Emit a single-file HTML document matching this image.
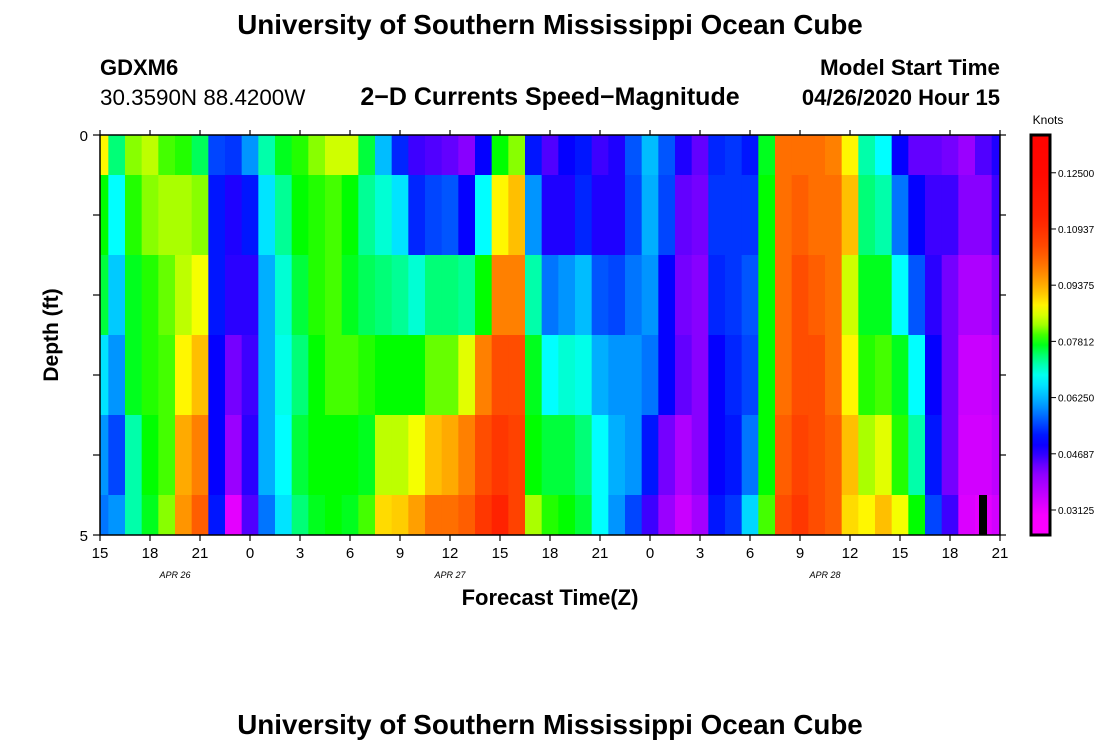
<!DOCTYPE html>
<html><head><meta charset="utf-8">
<style>
html,body{margin:0;padding:0;background:#fff;}
body{width:1100px;height:750px;overflow:hidden;position:relative;font-family:"Liberation Sans",sans-serif;}
svg text{font-family:"Liberation Sans",sans-serif;}
</style></head>
<body>
<svg id="chart" width="1100" height="750" xmlns="http://www.w3.org/2000/svg">
  <text x="550" y="34" text-anchor="middle" font-size="27.8" font-weight="bold">University of Southern Mississippi Ocean Cube</text>
  <text x="100" y="75" font-size="22" font-weight="bold">GDXM6</text>
  <text x="100" y="105" font-size="22.4">30.3590N 88.4200W</text>
  <text x="550" y="105" text-anchor="middle" font-size="25" font-weight="bold">2−D Currents Speed−Magnitude</text>
  <text x="1000" y="75" text-anchor="end" font-size="22.4" font-weight="bold">Model Start Time</text>
  <text x="1000" y="105" text-anchor="end" font-size="22" font-weight="bold">04/26/2020 Hour 15</text>
  <g id="cells"></g>
  <rect x="979" y="495" width="8" height="40" fill="#000"/>
  <rect x="100" y="135" width="900" height="400" fill="none" stroke="#000" stroke-width="1.5"/>
  <g id="axes"></g>
  <text x="550" y="605" text-anchor="middle" font-size="22" font-weight="bold">Forecast Time(Z)</text>
  <text transform="translate(58,335) rotate(-90)" text-anchor="middle" font-size="21" font-weight="bold">Depth (ft)</text>
  <text x="175" y="578" text-anchor="middle" font-size="9" font-style="italic" font-family="Liberation Serif">APR  26</text>
  <text x="450" y="578" text-anchor="middle" font-size="9" font-style="italic" font-family="Liberation Serif">APR  27</text>
  <text x="825" y="578" text-anchor="middle" font-size="9" font-style="italic" font-family="Liberation Serif">APR  28</text>
  <defs><linearGradient id="cbgrad" x1="0" y1="1" x2="0" y2="0"></linearGradient></defs>
  <text x="1048" y="124" text-anchor="middle" font-size="12">Knots</text>
  <rect x="1031" y="135" width="19" height="400" fill="url(#cbgrad)" stroke="#000" stroke-width="3"/>
  <g id="cbticks"></g>
  <text x="550" y="734" text-anchor="middle" font-size="27.8" font-weight="bold">University of Southern Mississippi Ocean Cube</text>
</svg>
<script>
const depths = [0,1,2,3,4,5];
const hours = [];
for (let i = 0; i <= 54; i++) hours.push(i);
const speed0 = [0.088,0.074,0.082,0.084,0.080,0.079,0.075,0.055,0.054,0.060,0.072,0.077,0.079,0.082,0.085,0.085,0.076,0.063,0.053,0.046,0.045,0.044,0.042,0.050,0.078,0.082,0.052,0.045,0.050,0.052,0.046,0.048,0.056,0.063,0.056,0.048,0.044,0.053,0.054,0.052,0.077,0.100,0.100,0.100,0.098,0.088,0.072,0.068,0.050,0.044,0.044,0.043,0.040,0.045,0.048];
const speed1 = [0.078,0.068,0.079,0.082,0.083,0.083,0.082,0.052,0.048,0.052,0.066,0.073,0.078,0.079,0.080,0.078,0.073,0.070,0.066,0.053,0.055,0.056,0.050,0.068,0.088,0.092,0.060,0.048,0.048,0.053,0.048,0.048,0.055,0.062,0.055,0.044,0.043,0.054,0.054,0.054,0.078,0.100,0.102,0.100,0.100,0.092,0.074,0.072,0.058,0.050,0.046,0.046,0.042,0.042,0.046];
const speed2 = [0.076,0.064,0.077,0.079,0.081,0.084,0.087,0.052,0.047,0.047,0.062,0.070,0.076,0.079,0.080,0.077,0.075,0.074,0.073,0.070,0.074,0.074,0.073,0.078,0.098,0.098,0.072,0.058,0.060,0.063,0.056,0.055,0.058,0.060,0.050,0.043,0.042,0.053,0.054,0.056,0.078,0.100,0.104,0.102,0.100,0.085,0.077,0.077,0.068,0.056,0.047,0.043,0.038,0.038,0.042];
const speed3 = [0.066,0.060,0.077,0.079,0.080,0.088,0.092,0.050,0.043,0.046,0.062,0.069,0.074,0.078,0.080,0.080,0.079,0.078,0.078,0.078,0.081,0.081,0.086,0.098,0.104,0.104,0.077,0.068,0.070,0.069,0.062,0.060,0.060,0.058,0.050,0.044,0.042,0.050,0.053,0.055,0.078,0.100,0.104,0.104,0.100,0.088,0.079,0.080,0.077,0.068,0.050,0.043,0.035,0.035,0.037];
const speed4 = [0.060,0.055,0.072,0.078,0.080,0.094,0.098,0.050,0.040,0.047,0.062,0.068,0.076,0.078,0.078,0.078,0.077,0.084,0.084,0.087,0.092,0.094,0.098,0.104,0.108,0.106,0.078,0.076,0.076,0.074,0.068,0.062,0.060,0.052,0.043,0.038,0.042,0.050,0.052,0.058,0.078,0.102,0.106,0.104,0.102,0.092,0.083,0.086,0.079,0.072,0.052,0.043,0.034,0.034,0.036];
const speed5 = [0.058,0.060,0.072,0.077,0.082,0.096,0.102,0.052,0.032,0.045,0.058,0.066,0.074,0.077,0.078,0.077,0.080,0.090,0.091,0.095,0.100,0.100,0.102,0.108,0.112,0.106,0.083,0.079,0.078,0.076,0.068,0.060,0.055,0.046,0.040,0.035,0.039,0.052,0.054,0.065,0.080,0.104,0.108,0.104,0.102,0.090,0.088,0.092,0.087,0.078,0.055,0.046,0.033,0.032,0.034];
const speedRows = [speed0,speed1,speed2,speed3,speed4,speed5];
const xTickLabels = ["15","18","21","0","3","6","9","12","15","18","21","0","3","6","9","12","15","18","21"];
const cbTickValues = [0.125,0.109375,0.09375,0.078125,0.0625,0.046875,0.03125];
const cbTickLabels = ["0.12500","0.10937","0.09375","0.07812","0.06250","0.04687","0.03125"];

const NS = "http://www.w3.org/2000/svg";
const X0 = 100, X1 = 1000, Y0 = 135, Y1 = 535;
const xScale = h => X0 + (h / 54) * (X1 - X0);
const yScale = d => Y0 + (d / 5) * (Y1 - Y0);
const cbMin = 0.0243, cbMax = 0.1355;
const cbScale = v => Y1 - (v - cbMin) / (cbMax - cbMin) * (Y1 - Y0);

const hueStops = [[0.024,300],[0.030,298],[0.042,272],[0.047,250],[0.052,235],[0.060,205],[0.068,180],[0.073,155],[0.078,120],[0.083,80],[0.088,58],[0.092,45],[0.098,30],[0.104,18],[0.112,8],[0.125,2],[0.14,0]];
function hue(v){
  if (v <= hueStops[0][0]) return hueStops[0][1];
  for (let i = 1; i < hueStops.length; i++){
    if (v <= hueStops[i][0]){
      const a = hueStops[i-1], b = hueStops[i];
      return a[1] + (b[1]-a[1]) * (v-a[0])/(b[0]-a[0]);
    }
  }
  return 0;
}
const color = v => `hsl(${hue(v).toFixed(1)},100%,50%)`;

const cells = document.getElementById('cells');
speedRows.forEach((row, r) => {
  const d = depths[r];
  const ya = Math.max(Y0, yScale(d - 0.5)), yb = Math.min(Y1, yScale(d + 0.5));
  row.forEach((v, i) => {
    const h = hours[i];
    const xa = Math.max(X0, xScale(h - 0.5)), xb = Math.min(X1, xScale(h + 0.5));
    const rc = document.createElementNS(NS, 'rect');
    
    
    rc.setAttribute('x', xa); rc.setAttribute('y', ya);
    rc.setAttribute('width', xb - xa + 0.4); rc.setAttribute('height', yb - ya);
    rc.setAttribute('fill', color(v));
    cells.appendChild(rc);
  });
});

const axes = document.getElementById('axes');
function line(x1,y1,x2,y2,name){
  const l = document.createElementNS(NS,'line');
  
  
  l.setAttribute('x1',x1);l.setAttribute('y1',y1);l.setAttribute('x2',x2);l.setAttribute('y2',y2);
  l.setAttribute('stroke','#000');l.setAttribute('stroke-width','1.2');
  axes.appendChild(l);
}
function text(x,y,s,anchor,size,name,parent){
  const t = document.createElementNS(NS,'text');
  
  
  t.setAttribute('x',x);t.setAttribute('y',y);t.setAttribute('text-anchor',anchor);t.setAttribute('font-size',size);
  t.textContent = s;
  (parent||axes).appendChild(t);
}
xTickLabels.forEach((s, k) => {
  const x = xScale(k * 3);
  line(x, Y1, x, Y1 + 6, 'x-tick');
  line(x, Y0, x, Y0 - 5, 'x-tick-top');
  text(x, 558, s, 'middle', 15, 'x-tick-label');
});
depths.forEach(d => {
  const y = yScale(d);
  line(X0 - 7, y, X0, y, 'y-tick');
  line(X1, y, X1 + 6, y, 'y-tick-right');
});
text(88, 141, '0', 'end', 15, 'y-tick-label');
text(88, 541, '5', 'end', 15, 'y-tick-label');

const grad = document.getElementById('cbgrad');
for (let k = 0; k <= 40; k++){
  const v = cbMin + (cbMax - cbMin) * k / 40;
  const s = document.createElementNS(NS,'stop');
  s.setAttribute('offset', (k/40*100) + '%');
  s.setAttribute('stop-color', color(v));
  grad.appendChild(s);
}
const cbt = document.getElementById('cbticks');
cbTickValues.forEach((v, k) => {
  const y = cbScale(v);
  const l = document.createElementNS(NS,'line');
  
  
  l.setAttribute('x1',1050);l.setAttribute('x2',1056);l.setAttribute('y1',y);l.setAttribute('y2',y);
  l.setAttribute('stroke','#000');
  cbt.appendChild(l);
  text(1058, y + 4, cbTickLabels[k], 'start', 10, 'colorbar-tick-label', cbt);
});
</script>
</body></html>
